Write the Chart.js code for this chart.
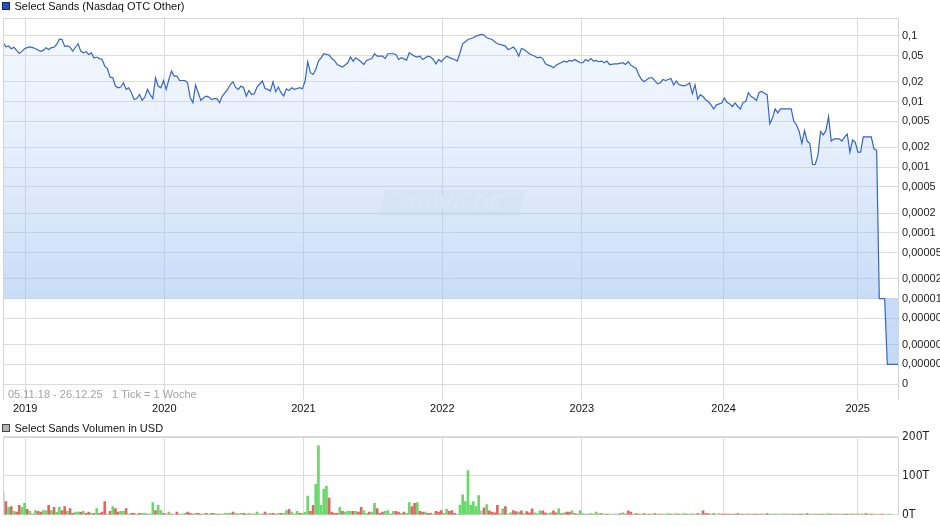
<!DOCTYPE html>
<html>
<head>
<meta charset="utf-8">
<script src="https://cdn.jsdelivr.net/npm/chart.js@4.4.1/dist/chart.umd.min.js"></script>
<style>
  html, body { margin: 0; padding: 0; background: #fff; }
  #wrap { position: relative; width: 940px; height: 526px; overflow: hidden; }
  #priceChart { position: absolute; left: 0; top: 0; }
  #volumeChart { position: absolute; left: 0; top: 420px; }
</style>
</head>
<body>
<div id="wrap">
  <canvas id="priceChart" width="940" height="420"></canvas>
  <canvas id="volumeChart" width="940" height="106"></canvas>
</div>
<script>
// weekly ticks since 05.11.18: [week, price in USD]
const priceSeries = [
  [0,0.078],[1,0.068],[2,0.070],[3,0.0635],[4,0.067],[5,0.060],[6,0.054],[7,0.058],[8,0.064],[9,0.066],
  [10,0.068],[11,0.066],[12,0.064],[13,0.061],[14,0.058],[15,0.060],[16,0.066],[17,0.062],[18,0.066],[19,0.067],
  [20,0.074],[21,0.089],[22,0.088],[23,0.069],[24,0.070],[25,0.067],[26,0.0585],[27,0.067],[28,0.0757],[29,0.0585],
  [30,0.0552],[31,0.0572],[32,0.052],[33,0.055],[34,0.046],[35,0.0475],[36,0.045],[37,0.0436],[38,0.0346],[39,0.0318],
  [40,0.0235],[41,0.023],[42,0.0172],[43,0.0162],[44,0.0166],[45,0.0193],[46,0.0153],[47,0.0162],[48,0.0136],[49,0.0107],
  [50,0.0111],[51,0.0128],[52,0.0104],[53,0.0117],[54,0.0153],[55,0.0128],[56,0.0111],[57,0.023],[58,0.0172],[59,0.0162],
  [60,0.0209],[61,0.0153],[62,0.0216],[63,0.029],[64,0.0244],[65,0.0244],[66,0.0209],[67,0.0209],[68,0.0209],[69,0.0193],
  [70,0.0114],[71,0.0096],[72,0.0178],[73,0.0136],[74,0.0104],[75,0.0114],[76,0.0121],[77,0.0117],[78,0.0107],[79,0.0111],
  [80,0.0111],[81,0.0096],[82,0.0121],[84,0.0153],[85,0.0181],[86,0.0200],[87,0.0164],[88,0.0153],[89,0.0172],[90,0.0162],
  [91,0.0121],[92,0.0147],[93,0.0128],[94,0.0131],[95,0.0166],[97,0.0205],[98,0.0158],[99,0.0153],[100,0.0144],[101,0.0200],
  [102,0.0141],[103,0.0166],[104,0.0136],[105,0.0121],[106,0.0156],[107,0.0147],[108,0.0162],[109,0.0153],[110,0.0158],[111,0.0162],
  [112,0.0156],[113,0.0205],[114,0.0402],[115,0.0274],[116,0.0258],[117,0.0307],[118,0.0412],[119,0.0463],[120,0.0533],[122,0.051],
  [123,0.045],[124,0.0421],[125,0.0366],[127,0.0334],[129,0.0389],[130,0.0475],[131,0.0412],[132,0.0463],[134,0.0403],[135,0.0366],
  [136,0.0421],[137,0.0436],[138,0.045],[139,0.0533],[140,0.049],[142,0.049],[143,0.045],[144,0.0533],[146,0.0533],[147,0.052],
  [148,0.0436],[149,0.0463],[151,0.0427],[152,0.0552],[154,0.049],[155,0.0475],[156,0.049],[157,0.0436],[159,0.049],[160,0.0475],
  [161,0.0436],[162,0.0375],[163,0.0436],[164,0.0403],[165,0.045],[166,0.049],[168,0.045],[169,0.0436],[170,0.0412],[171,0.0552],
  [172,0.0757],[173,0.081],[174,0.088],[176,0.0933],[177,0.099],[179,0.105],[180,0.103],[181,0.0933],[183,0.088],[184,0.081],
  [185,0.0757],[187,0.0723],[188,0.0698],[189,0.062],[190,0.0642],[191,0.0674],[192,0.060],[193,0.049],[194,0.0642],[195,0.062],
  [197,0.0533],[198,0.051],[199,0.049],[200,0.0463],[201,0.0475],[202,0.045],[203,0.0375],[204,0.0358],[205,0.0346],[206,0.0326],
  [207,0.0358],[208,0.0375],[210,0.0412],[211,0.0399],[212,0.0421],[213,0.0412],[214,0.0436],[215,0.0412],[216,0.0389],[217,0.0389],
  [218,0.0436],[219,0.0412],[220,0.045],[221,0.0412],[222,0.0421],[223,0.0403],[224,0.0412],[225,0.0389],[226,0.0412],[227,0.0366],
  [229,0.0375],[230,0.0375],[232,0.0389],[233,0.0366],[234,0.0403],[235,0.0358],[236,0.0334],[237,0.0318],[238,0.0252],[239,0.0216],
  [240,0.020],[241,0.0216],[242,0.023],[243,0.023],[245,0.0186],[246,0.0193],[247,0.0216],[248,0.0209],[250,0.0224],[251,0.0178],
  [252,0.0205],[253,0.0181],[254,0.0176],[255,0.0173],[256,0.018],[257,0.0191],[258,0.0131],[259,0.018],[260,0.0109],[261,0.0127],
  [262,0.0119],[263,0.0106],[264,0.0100],[265,0.0089],[266,0.0077],[267,0.0089],[269,0.0095],[270,0.0113],[271,0.0097],[272,0.0092],
  [273,0.0084],[274,0.0095],[275,0.0084],[276,0.0077],[277,0.0097],[278,0.0100],[279,0.0137],[280,0.0119],[281,0.0113],[282,0.0104],
  [283,0.0137],[284,0.0142],[285,0.0134],[286,0.0127],[287,0.0046],[288,0.0056],[289,0.0077],[290,0.0067],[291,0.0077],[293,0.0077],
  [295,0.0077],[296,0.0050],[297,0.0044],[298,0.0035],[299,0.0023],[300,0.0036],[301,0.0025],[302,0.0023],[303,0.0011],[304,0.0011],
  [305,0.0015],[306,0.0035],[307,0.0031],[308,0.0036],[309,0.0059],[310,0.0025],[311,0.0027],[313,0.0027],[314,0.0025],[315,0.0029],
  [316,0.0032],[317,0.0017],[318,0.0026],[319,0.0024],[320,0.0017],[321,0.0017],[322,0.0029],[323,0.0029],[324,0.0029],[325,0.0029],
  [326,0.0019],[327,0.0018],[328,0.00001],[330,0.00001],[331,0.000001],[335,0.000001]
];

// weekly volume in thousand USD (T), one per week from week 0
const volumeValues = [
  56,34,19,21,9,7,24,19,29,14, 9,2,11,9,7,11,11,24,11,19, 7,19,11,21,9,16,4,7,7,7,
  9,4,7,4,4,16,4,7,34,2, 9,21,16,7,9,9,16,2,4,4, 2,4,4,4,2,2,31,11,24,11,
  4,2,7,2,2,7,2,2,4,7, 4,2,4,4,2,2,4,2,4,4, 2,2,2,4,4,4,7,4,2,4,
  4,2,4,2,2,7,2,2,7,2, 4,4,2,4,4,4,11,14,7,2, 9,4,4,7,48,9,24,78,176,24,
  66,73,43,7,4,4,19,9,7,9, 9,9,9,7,19,11,4,7,7,29, 16,4,7,9,11,2,9,9,7,4,
  7,4,31,21,29,31,9,7,7,4, 4,2,9,7,11,4,14,9,11,4,2,
  25,51,34,113,25,34,21,49,10,18, 26,10,7,5,24,3,15,21,2,5, 11,8,7,10,3,8,5,15,5,3,
  10,10,5,3,5,10,5,16,3,5, 7,7,10,3,2,11,3,2,2,3, 2,7,3,3,2,2,2,2,2,2,
  3,5,2,10,7,2,3,2,2,3, 2,2,2,3,2,2,2,2,3,2, 2,3,2,2,3,2,2,2,2,3,
  2,10,3,3,2,3,2,3,2,
  2,2,2,2,2,3,2,2,2,2, 2,2,2,2,2,2,3,2,2,2, 2,2,3,2,2,2,2,2,2,2,
  2,3,2,2,2,2,2,2,2,3, 2,2,2,2,2,2,2,2,2,2, 2,2,2,3,2,2,2,2,2,2,
  2,2,2
];
// g = up week, r = down week, n = unchanged
const volumeTrend = (
  'nrgrgrrggr' + 'grgrrggrgr' + 'ggrrgrrggr' + 'grrgrgrrrg' + 'rgrrggrgrr' + 'grggrggrgg' +
  'rrgrnrgggr' + 'rrgrrgrgrg' + 'rrggggrgrg' + 'rrgrrggrrr' + 'grrgrggrgr' + 'grgggrrggg' +
  'ggrrrrgrgg' + 'grgrrggrgg' + 'rrrggrgrrg' + 'rggrrgrrgr' + 'rgrrrggrrrg' +
  'ggggggggnr' + 'grrrrggrgg' + 'rrgrgrrrgg' + 'grrggrrgrg' + 'rrgrrgggrg' + 'rggrgrgngg' +
  'rgrrrgrrgr' + 'grgrgrgggr' + 'ggrggrgrgr' + 'grrrgrggr' +
  'rrrgrrgrgr' + 'grrgrgrggr' + 'ggnrggrgrr' + 'grggrgrrgg' + 'rgrggrrgrg' + 'rggrgrgnnr' + 'nng'
).split('');

const yearTicks = [8.2, 60.3, 112.4, 164.4, 216.6, 269.7, 319.9];
const yearLabels = ['2019', '2020', '2021', '2022', '2023', '2024', '2025'];

const priceTicks = [0.1, 0.05, 0.02, 0.01, 0.005, 0.002, 0.001, 0.0005, 0.0002, 0.0001,
  0.00005, 0.00002, 0.00001, 0.000005, 0.000002, 0.000001, 0.0000005];
const priceTickLabels = ['0,1', '0,05', '0,02', '0,01', '0,005', '0,002', '0,001', '0,0005', '0,0002', '0,0001',
  '0,00005', '0,00002', '0,00001', '0,000005', '0,000002', '0,000001', '0'];

const volumeTicks = [0, 100, 200];

const FONT = "'Liberation Sans', Arial, sans-serif";
const NARROW = "'Liberation Sans Narrow', 'DejaVu Sans Condensed', sans-serif";
const gridColor = '#dcdcdc';
const lastWeek = 335;
const fillBase = 0.00001;

// left / top / right border of the plot
const framePlugin = {
  id: 'frame',
  afterDraw(chart) {
    const { ctx, chartArea: a } = chart;
    ctx.save();
    ctx.strokeStyle = '#d4d4d4';
    ctx.lineWidth = 1;
    ctx.beginPath();
    ctx.moveTo(Math.round(a.left) + 0.5, a.bottom);
    ctx.lineTo(Math.round(a.left) + 0.5, Math.round(a.top) + 0.5);
    ctx.lineTo(Math.round(a.right) + 0.5, Math.round(a.top) + 0.5);
    ctx.lineTo(Math.round(a.right) + 0.5, a.bottom);
    ctx.stroke();
    ctx.restore();
  }
};

function drawLegend(ctx, y, fill, stroke, text) {
  ctx.save();
  ctx.fillStyle = fill;
  ctx.fillRect(2, y - 3, 7, 7);
  ctx.strokeStyle = stroke;
  ctx.lineWidth = 1;
  ctx.strokeRect(2.5, y - 3.5, 7, 7);
  ctx.fillStyle = '#111';
  ctx.font = '11px ' + FONT;
  ctx.textBaseline = 'middle';
  ctx.fillText(text, 14.5, y + 0.5);
  ctx.restore();
}

const priceDecor = {
  id: 'priceDecor',
  beforeDatasetsDraw(chart) {
    const { ctx } = chart;
    // ARIVA.DE watermark
    ctx.save();
    ctx.fillStyle = 'rgba(200,206,218,0.16)';
    ctx.beginPath();
    ctx.moveTo(386, 190); ctx.lineTo(526, 190); ctx.lineTo(518, 216); ctx.lineTo(378, 216);
    ctx.closePath();
    ctx.fill();
    ctx.font = 'italic bold 22px ' + FONT;
    ctx.textAlign = 'center';
    ctx.textBaseline = 'middle';
    ctx.fillStyle = 'rgba(255,255,255,0.7)';
    ctx.fillText('ARIVA.DE', 452, 204);
    ctx.restore();
  },
  afterDraw(chart) {
    const { ctx } = chart;
    drawLegend(ctx, 6, '#2454b0', '#0b2a66', chart.data.datasets[0].label);
    ctx.save();
    ctx.font = '11px ' + FONT;
    ctx.fillStyle = '#a3a3a3';
    ctx.textBaseline = 'middle';
    ctx.fillText('05.11.18 - 26.12.25', 8, 395);
    ctx.fillText('1 Tick = 1 Woche', 112, 395);
    ctx.restore();
  }
};

function priceFill(context) {
  const chart = context.chart;
  const a = chart.chartArea;
  if (!a) return 'rgba(160,195,240,0.4)';
  const yBase = chart.scales.y.getPixelForValue(fillBase);
  const stop = Math.min(1, Math.max(0, (yBase - a.top) / (a.bottom - a.top)));
  const g = chart.ctx.createLinearGradient(0, a.top, 0, a.bottom);
  g.addColorStop(0, 'rgba(200,220,250,0.18)');
  g.addColorStop(stop, 'rgba(150,188,240,0.52)');
  g.addColorStop(1, 'rgba(145,185,240,0.56)');
  return g;
}

new Chart(document.getElementById('priceChart'), {
  type: 'line',
  data: {
    datasets: [{
      label: 'Select Sands (Nasdaq OTC Other)',
      data: priceSeries.map(p => ({ x: p[0], y: p[1] })),
      borderColor: '#3366cc',
      borderWidth: 1.2,
      pointRadius: 0,
      tension: 0,
      fill: { value: fillBase },
      backgroundColor: priceFill
    }]
  },
  options: {
    responsive: false,
    animation: false,
    layout: { padding: { top: 17.5, left: 3, right: 0, bottom: 0 } },
    plugins: { legend: { display: false }, tooltip: { enabled: false } },
    scales: {
      x: {
        type: 'linear',
        min: -0.1,
        max: lastWeek,
        afterBuildTicks: s => { s.ticks = yearTicks.map(v => ({ value: v })); },
        afterFit: s => { s.height = 20; },
        grid: { color: gridColor, drawTicks: false },
        border: { display: false },
        ticks: {
          autoSkip: false, maxRotation: 0, padding: 2,
          color: '#111', font: { family: FONT, size: 11 },
          callback: (v, i) => yearLabels[i]
        }
      },
      y: {
        type: 'logarithmic',
        position: 'right',
        min: 2.86e-7,
        max: 0.19,
        afterBuildTicks: s => { s.ticks = priceTicks.map(v => ({ value: v })); },
        afterFit: s => { s.width = 42; },
        grid: { color: gridColor, drawTicks: false },
        border: { display: false },
        ticks: {
          autoSkip: false, padding: 4,
          color: '#222', font: { family: FONT, size: 11 },
          callback: (v, i) => priceTickLabels[i]
        }
      }
    }
  },
  plugins: [framePlugin, priceDecor]
});

const trendColor = { g: '#68d868', r: '#e06464', n: '#bdbdbd' };

new Chart(document.getElementById('volumeChart'), {
  type: 'bar',
  data: {
    datasets: [{
      label: 'Select Sands Volumen in USD',
      data: volumeValues.map((v, i) => ({ x: i, y: v })),
      backgroundColor: volumeValues.map((v, i) => trendColor[volumeTrend[i]] || trendColor.n),
      barThickness: 2,
      borderWidth: 0
    }]
  },
  options: {
    responsive: false,
    animation: false,
    layout: { padding: { top: 16.5, left: 3, right: 0, bottom: 0 } },
    plugins: { legend: { display: false }, tooltip: { enabled: false } },
    scales: {
      x: {
        type: 'linear',
        offset: false,
        min: -0.1,
        max: lastWeek,
        afterBuildTicks: s => { s.ticks = yearTicks.map(v => ({ value: v })); },
        afterFit: s => { s.height = 9.3; },
        grid: { color: gridColor, drawTicks: false, offset: false },
        border: { display: false },
        ticks: { display: false }
      },
      y: {
        position: 'right',
        min: 0,
        max: 200,
        afterBuildTicks: s => { s.ticks = volumeTicks.map(v => ({ value: v })); },
        afterFit: s => { s.width = 42; },
        grid: { color: gridColor, drawTicks: false },
        border: { display: false },
        ticks: {
          autoSkip: false, padding: 4,
          color: '#222', font: { family: NARROW, size: 12 },
          callback: v => v + 'T'
        }
      }
    }
  },
  plugins: [framePlugin, {
    id: 'volumeLegend',
    afterDraw(chart) {
      drawLegend(chart.ctx, 8, '#b4b4b4', '#444', chart.data.datasets[0].label);
    }
  }]
});
</script>
</body>
</html>
